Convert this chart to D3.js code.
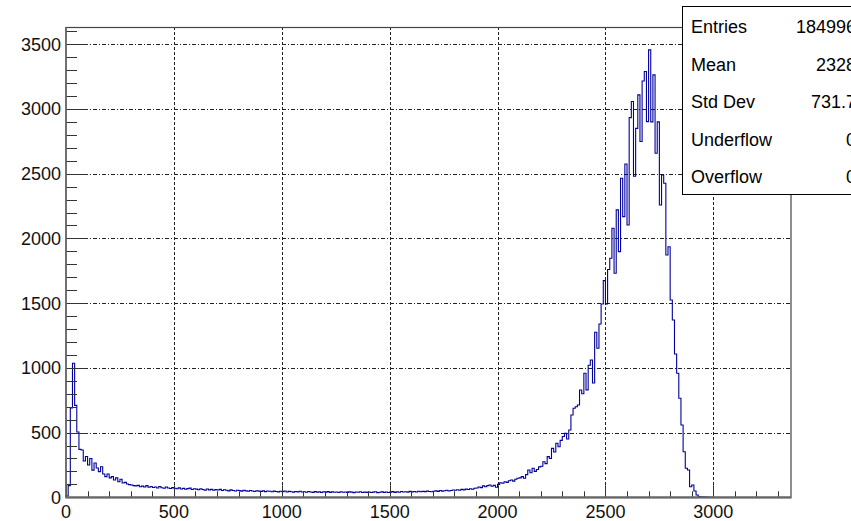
<!DOCTYPE html>
<html>
<head>
<meta charset="utf-8">
<script src="https://cdn.jsdelivr.net/npm/d3@7/dist/d3.min.js"></script>
<style>
  html, body { margin: 0; padding: 0; background: #fff; }
  svg { display: block; }
  text { font-family: "Liberation Sans", Arial, Helvetica, sans-serif; }
</style>
</head>
<body>
<svg id="chart" width="851" height="521"></svg>
<script>
// ---- Data ----
const binWidth = 10;           // histogram bin width (x units)
const xMax = 3360;             // x axis upper limit
const yMax = 3633;             // y axis upper limit (1.05 * max bin)

// bin contents, one value per 10-unit bin starting at 0
const counts0000 = [10, 90, 690, 1035, 710, 505, 370, 365, 280, 315];
const counts0100 = [250, 300, 210, 265, 226, 198, 236, 180, 160, 180];
const counts0200 = [150, 160, 134, 150, 120, 140, 110, 115, 103, 98];
const counts0300 = [95, 90, 88, 92, 82, 86, 80, 90, 78, 84];
const counts0400 = [76, 80, 72, 83, 74, 70, 79, 72, 68, 75];
const counts0500 = [70, 66, 73, 64, 69, 62, 67, 71, 60, 66];
const counts0600 = [63, 58, 66, 60, 55, 64, 57, 61, 54, 59];
const counts0700 = [56, 61, 52, 58, 55, 50, 57, 53, 49, 55];
const counts0800 = [52, 48, 54, 50, 47, 53, 49, 45, 51, 48];
const counts0900 = [46, 50, 44, 49, 47, 43, 48, 45, 42, 47];
const counts1000 = [44, 49, 41, 46, 43, 40, 45, 42, 47, 41];
const counts1100 = [43, 39, 45, 41, 38, 44, 40, 42, 37, 43];
const counts1200 = [40, 44, 38, 42, 39, 41, 37, 43, 39, 41];
const counts1300 = [38, 42, 40, 36, 41, 39, 43, 37, 40, 38];
const counts1400 = [41, 37, 40, 43, 36, 39, 42, 38, 41, 37];
const counts1500 = [40, 44, 38, 42, 39, 45, 41, 43, 40, 46];
const counts1600 = [42, 45, 41, 47, 43, 46, 44, 48, 45, 43];
const counts1700 = [47, 50, 46, 52, 48, 51, 55, 49, 53, 56];
const counts1800 = [54, 58, 55, 61, 57, 63, 60, 66, 62, 70];
const counts1900 = [72, 80, 75, 88, 82, 90, 95, 85, 92, 78];
const counts2000 = [100, 112, 108, 120, 115, 128, 134, 125, 140, 147];
const counts2100 = [150, 160, 147, 175, 211, 190, 224, 200, 215, 235];
const counts2200 = [240, 275, 260, 314, 300, 378, 350, 417, 390, 440];
const counts2300 = [470, 494, 450, 520, 636, 688, 700, 713, 829, 800];
const counts2400 = [958, 830, 1020, 1061, 883, 1275, 1151, 1339, 1493, 1674];
const counts2500 = [1493, 1760, 1847, 2078, 1731, 2220, 1898, 2465, 2168, 2575];
const counts2600 = [2104, 2933, 3057, 2480, 2850, 3109, 2748, 3216, 3289, 2902];
const counts2700 = [3456, 2900, 3263, 2658, 2900, 2258, 2490, 2426, 1872, 1936];
const counts2800 = [1524, 1370, 1107, 958, 765, 559, 352, 224, 211, 82];
const counts2900 = [95, 49, 18, 5, 4, 3, 2, 1, 0, 0];

const counts = [].concat(counts0000, counts0100, counts0200, counts0300, counts0400,
  counts0500, counts0600, counts0700, counts0800, counts0900, counts1000, counts1100,
  counts1200, counts1300, counts1400, counts1500, counts1600, counts1700, counts1800,
  counts1900, counts2000, counts2100, counts2200, counts2300, counts2400, counts2500,
  counts2600, counts2700, counts2800, counts2900);

// axis ticks
const xMajorTicks = [0, 500, 1000, 1500, 2000, 2500, 3000];
const xTickLabels = ["0", "500", "1000", "1500", "2000", "2500", "3000"];
const yMajorTicks = [0, 500, 1000, 1500, 2000, 2500, 3000, 3500];
const yTickLabels = ["0", "500", "1000", "1500", "2000", "2500", "3000", "3500"];

// statistics box
const statLabels = ["Entries", "Mean", "Std Dev", "Underflow", "Overflow"];
const statValues = ["184996", "2328", "731.7", "0", "0"];

// ---- Layout ----
const L = 66, R = 791, T = 27, B = 497.3;
const svg = d3.select("#chart");
const x = d3.scaleLinear().domain([0, xMax]).range([L, R]);
const y = d3.scaleLinear().domain([0, yMax]).range([B, T]);

svg.append("rect").attr("width", 851).attr("height", 521).attr("fill", "#fff");

// grid
const grid = svg.append("g");
grid.selectAll("line.vg").data(xMajorTicks.filter(d => d > 0)).enter().append("line")
  .attr("x1", d => Math.round(x(d)) + 0.5).attr("x2", d => Math.round(x(d)) + 0.5)
  .attr("y1", T).attr("y2", B)
  .attr("stroke", "#222").attr("stroke-width", 1).attr("stroke-dasharray", "3,2");
grid.selectAll("line.hg").data(yMajorTicks.filter(d => d > 0)).enter().append("line")
  .attr("x1", L).attr("x2", R)
  .attr("y1", d => Math.round(y(d)) + 0.5).attr("y2", d => Math.round(y(d)) + 0.5)
  .attr("stroke", "#222").attr("stroke-width", 1).attr("stroke-dasharray", "4,2,1,2");

// histogram (step line)
const pts = counts.map((c, i) => [i * binWidth, c]);
pts.unshift([0, 0]);
pts.push([counts.length * binWidth, 0]);
const line = d3.line()
  .x(d => x(d[0])).y(d => y(d[1]))
  .curve(d3.curveStepAfter);
svg.append("path")
  .attr("d", line(pts))
  .attr("fill", "none")
  .attr("stroke", "#00009c")
  .attr("stroke-width", 1.1);

// y axis ticks (inside)
const yMinor = d3.range(0, yMax, 100);
svg.selectAll("line.ymin").data(yMinor).enter().append("line")
  .attr("x1", L).attr("x2", d => L + (d % 500 === 0 ? 21 : 11))
  .attr("y1", d => Math.round(y(d)) + 0.5).attr("y2", d => Math.round(y(d)) + 0.5)
  .attr("stroke", "#333").attr("stroke-width", 1);
// x axis ticks (inside)
const xMinor = d3.range(0, xMax, 100);
svg.selectAll("line.xmin").data(xMinor).enter().append("line")
  .attr("x1", d => Math.round(x(d)) + 0.5).attr("x2", d => Math.round(x(d)) + 0.5)
  .attr("y1", B).attr("y2", d => B - (d % 500 === 0 ? 12 : 6))
  .attr("stroke", "#333").attr("stroke-width", 1);

// frame
svg.append("rect")
  .attr("x", L).attr("y", T + 0.5).attr("width", R - L).attr("height", B - T)
  .attr("fill", "none").attr("stroke", "#444").attr("stroke-width", 1.2);
svg.append("line").attr("x1", L).attr("x2", R).attr("y1", B).attr("y2", B)
  .attr("stroke", "#666").attr("stroke-width", 2);
svg.append("line").attr("x1", L).attr("x2", L).attr("y1", T).attr("y2", B)
  .attr("stroke", "#666").attr("stroke-width", 1.5);

// tick labels
svg.selectAll("text.yl").data(yMajorTicks).enter().append("text")
  .attr("x", L - 5).attr("y", d => y(d)).attr("dy", "0.36em")
  .attr("text-anchor", "end").attr("font-size", 18).attr("fill", "#111")
  .text((d, i) => yTickLabels[i]);
svg.selectAll("text.xl").data(xMajorTicks).enter().append("text")
  .attr("x", d => x(d)).attr("y", 518)
  .attr("text-anchor", "middle").attr("font-size", 18).attr("fill", "#111")
  .text((d, i) => xTickLabels[i]);

// stats box
svg.append("rect")
  .attr("x", 682.5).attr("y", 6.5).attr("width", 220).attr("height", 188)
  .attr("fill", "#fff").attr("stroke", "#000").attr("stroke-width", 1);
const rowY = d3.scalePoint().domain(statLabels).range([33.3, 183.3]);
svg.selectAll("text.sl").data(statLabels).enter().append("text")
  .attr("x", 691).attr("y", d => rowY(d))
  .attr("font-size", 18).attr("fill", "#000").text(d => d);
svg.selectAll("text.sv").data(statValues).enter().append("text")
  .attr("x", 856).attr("y", (d, i) => rowY(statLabels[i]))
  .attr("text-anchor", "end")
  .attr("font-size", 18).attr("fill", "#000").text(d => d);
</script>
</body>
</html>
